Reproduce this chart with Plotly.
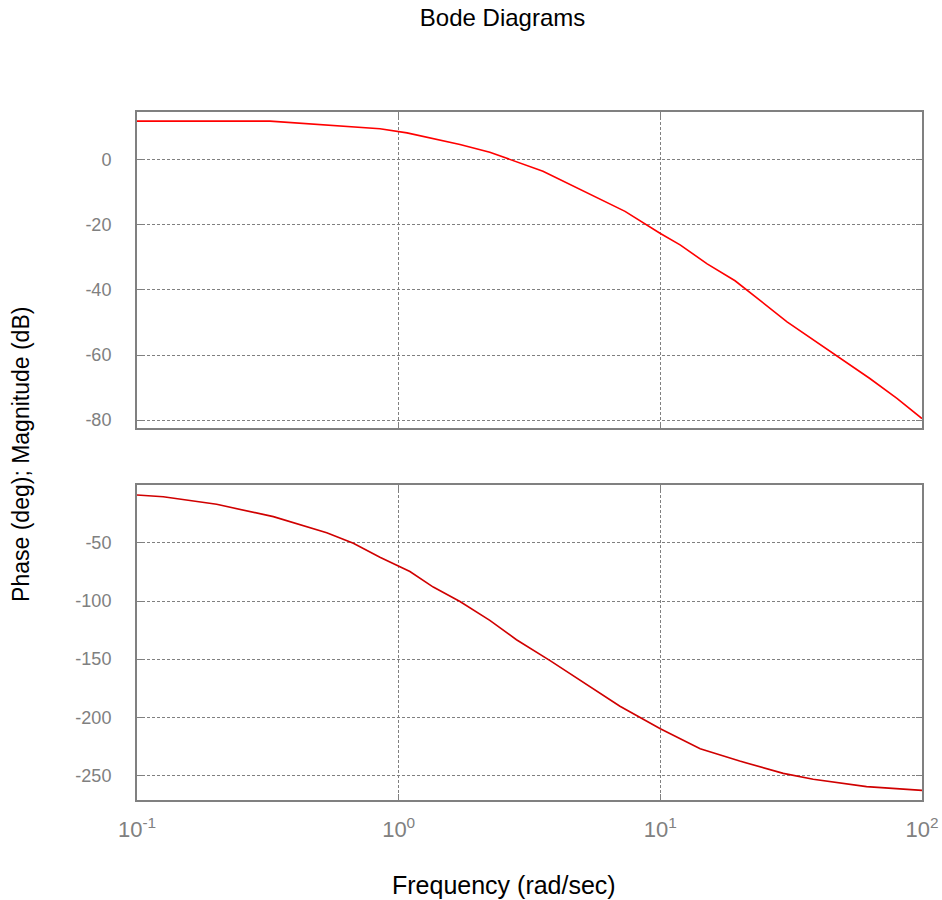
import plotly.graph_objects as go
from plotly.subplots import make_subplots

# Magnitude curve (frequency rad/s, dB)
mag_freq = [0.1, 0.322, 0.848, 1.076, 1.715, 2.23, 3.56, 7.33, 9.97, 11.9, 15.1, 19.3, 30.5, 63.2, 80.2, 100]
mag_db = [11.8, 11.8, 9.45, 8.2, 4.6, 2.25, -3.6, -15.9, -22.6, -26.2, -32.0, -37.2, -49.8, -67.2, -73.3, -79.5]

# Phase curve (frequency rad/s, degrees)
ph_freq = [0.1, 0.126, 0.2015, 0.332, 0.531, 0.671, 0.848, 1.104, 1.356, 1.715, 2.23, 2.82, 3.79,
           5.07, 7.01, 10.0, 14.2, 20.1, 29.5, 38.4, 61.4, 100]
ph_deg = [-8.8, -10.3, -16.8, -27.4, -41.2, -50.3, -62.3, -74.6, -88.0, -100.4, -116.7, -133.3, -151.3,
          -169.9, -190.5, -209.9, -227.1, -237.7, -248.3, -253.4, -259.7, -262.9]

x_tickvals = [0.1, 1, 10, 100]
x_ticktext = ["10<sup>-1</sup>", "10<sup>0</sup>", "10<sup>1</sup>", "10<sup>2</sup>"]
mag_ticks = [0, -20, -40, -60, -80]
mag_labels = ["0", "-20", "-40", "-60", "-80"]
ph_ticks = [-50, -100, -150, -200, -250]
ph_labels = ["-50", "-100", "-150", "-200", "-250"]

FONT = "Liberation Sans, Arial, sans-serif"
GRAY = "#808080"

fig = make_subplots(rows=2, cols=1, vertical_spacing=0.0)
fig.add_trace(go.Scatter(x=mag_freq, y=mag_db, mode="lines",
                         line=dict(color="#ff0000", width=1.6), showlegend=False), row=1, col=1)
fig.add_trace(go.Scatter(x=ph_freq, y=ph_deg, mode="lines",
                         line=dict(color="#d00000", width=1.6), showlegend=False), row=2, col=1)

axis_common = dict(showline=True, linecolor=GRAY, linewidth=2, mirror="ticks",
                   showgrid=True, gridcolor=GRAY, gridwidth=1, griddash="3px,2px",
                   zeroline=False, ticks="inside", ticklen=6, tickcolor=GRAY, tickwidth=1,
                   automargin=False)

fig.update_xaxes(type="log", range=[-1, 2], tickvals=x_tickvals, ticktext=x_ticktext,
                 tickfont=dict(family=FONT, size=22, color=GRAY), **axis_common)
fig.update_xaxes(showticklabels=False, row=1, col=1)
fig.update_xaxes(showticklabels=True, ticklabelstandoff=9, row=2, col=1)

fig.update_yaxes(tickfont=dict(family=FONT, size=18, color=GRAY), **axis_common)
fig.update_yaxes(range=[-82.4, 14.6], tickvals=mag_ticks, ticktext=mag_labels,
                 ticklabelstandoff=20, row=1, col=1)
fig.update_yaxes(range=[-271.2, -0.2], tickvals=ph_ticks, ticktext=ph_labels,
                 ticklabelstandoff=20, row=2, col=1)

fig.update_layout(
    width=942, height=900,
    margin=dict(l=137, r=20, t=112, b=100),
    paper_bgcolor="white", plot_bgcolor="white",
    xaxis=dict(domain=[0, 1]), xaxis2=dict(domain=[0, 1]),
    yaxis=dict(domain=[0.5407, 1.0]),
    yaxis2=dict(domain=[0.0, 0.4578]),
    title=dict(text="Bode Diagrams", x=0.5335, xanchor="center", y=0.98, yanchor="middle",
               yref="container", font=dict(family=FONT, size=24, color="black")),
    annotations=[
        dict(text="Frequency (rad/sec)", xref="paper", yref="paper", x=0.4675, y=-0.1235,
             xanchor="center", yanchor="middle", showarrow=False,
             font=dict(family=FONT, size=25, color="black")),
        dict(text="Phase (deg); Magnitude (dB)", xref="paper", yref="paper",
             x=-0.1478, y=0.503, xanchor="center", yanchor="middle", textangle=-90,
             showarrow=False, font=dict(family=FONT, size=23, color="black")),
    ],
)

fig.write_html("out.html", config={"displayModeBar": False},
               post_script="document.body.style.margin='0';document.body.style.overflow='hidden';")
